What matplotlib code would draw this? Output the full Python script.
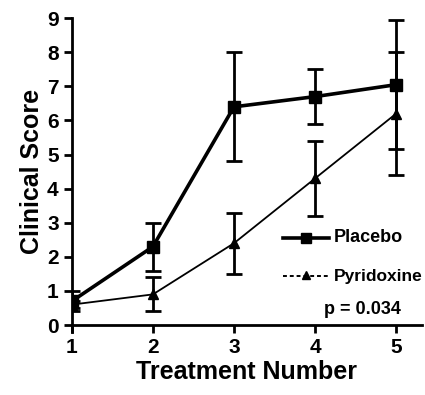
import matplotlib
matplotlib.use("Agg")
import matplotlib.pyplot as plt
from matplotlib.lines import Line2D

plt.rcParams['font.family'] = ['Liberation Sans', 'DejaVu Sans']

treatment = [1, 2, 3, 4, 5]
placebo = [0.7, 2.3, 6.4, 6.7, 7.05]
placebo_err = [0.3, 0.7, 1.6, 0.8, 1.9]
pyridoxine = [0.6, 0.9, 2.4, 4.3, 6.2]
pyridoxine_err = [0.1, 0.5, 0.9, 1.1, 1.8]
yticks = [0, 1, 2, 3, 4, 5, 6, 7, 8, 9]

W, H = 425, 395
fig = plt.figure(figsize=(W / 100, H / 100), dpi=100)
ax = fig.add_axes([0.169, 0.177, 0.824, 0.777])

ax.errorbar(treatment, placebo, yerr=placebo_err, color='black', lw=2.6,
            marker='s', ms=8, capsize=6, capthick=2, elinewidth=2, zorder=3)
ax.errorbar(treatment, pyridoxine, yerr=pyridoxine_err, color='black', lw=1.3,
            marker='^', ms=7, capsize=6, capthick=2, elinewidth=2, zorder=3)

ax.set_xlim(1, 5.32)
ax.set_ylim(0, 9)
ax.set_xticks(treatment)
ax.set_yticks(yticks)
ax.spines['top'].set_visible(False)
ax.spines['right'].set_visible(False)
ax.spines['left'].set_linewidth(2)
ax.spines['bottom'].set_linewidth(2)
ax.spines['left'].set_bounds(-0.2, 9)
ax.tick_params(axis='both', width=2, length=6, labelsize=15, direction='out')
for lab in ax.get_xticklabels() + ax.get_yticklabels():
    lab.set_fontweight('bold')
ax.set_xlabel('Treatment Number', fontsize=18, fontweight='bold', labelpad=2)
ax.set_ylabel('Clinical Score', fontsize=18, fontweight='bold', labelpad=2)

# legend drawn manually (figure pixel positions)
def fx(px):
    return px / W

def fy(py):
    return 1 - py / H

fig.add_artist(Line2D([fx(283), fx(329)], [fy(238), fy(238)], color='black', lw=2.6))
fig.add_artist(Line2D([fx(306)], [fy(238)], color='black', marker='s', ms=7))
fig.add_artist(Line2D([fx(283), fx(329)], [fy(276), fy(276)], color='black', lw=1.4,
                      ls='--', dashes=(2, 1.5)))
fig.add_artist(Line2D([fx(306)], [fy(275)], color='black', marker='^', ms=6))
fig.text(fx(334), fy(238), 'Placebo', fontsize=13, fontweight='bold', ha='left', va='center')
fig.text(fx(334), fy(276), 'Pyridoxine', fontsize=12.5, fontweight='bold', ha='left', va='center')
fig.text(fx(362), fy(309), 'p = 0.034', fontsize=13, fontweight='bold', ha='center', va='center')

fig.savefig('out.png', dpi=100)
